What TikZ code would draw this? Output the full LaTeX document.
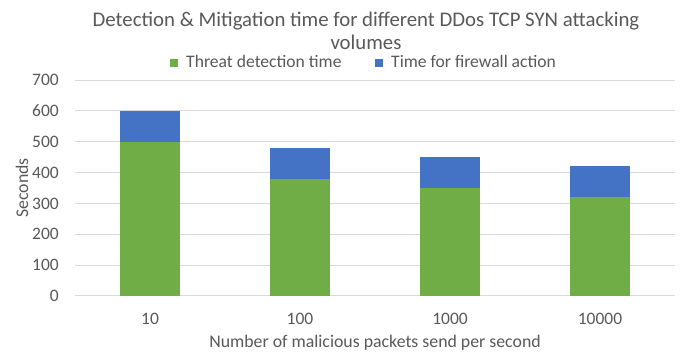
\documentclass[tikz,border=0pt]{standalone}
\usepackage{fontspec}
\setmainfont{Carlito}
\definecolor{txt}{HTML}{595959}
\definecolor{grn}{HTML}{70AD47}
\definecolor{blu}{HTML}{4472C4}
\definecolor{grd}{HTML}{D9D9D9}
\begin{document}
\begin{tikzpicture}[x=1pt,y=1pt,
  grid/.style={draw=grd,line width=1pt},
  tick/.style={text=txt,font=\fontsize{17.5}{19}\selectfont,inner sep=0pt},
  ylab/.style={tick,anchor=east},
  barg/.style={fill=grn,draw=none},
  barb/.style={fill=blu,draw=none},
  leg/.style={text=txt,font=\fontsize{17.6}{19}\selectfont,anchor=base west,inner sep=0pt}]
\useasboundingbox (0,0) rectangle (680,-352);
\fill[white] (0,0) rectangle (680,-352);
% gridlines
\foreach \v in {0,100,...,700}{
  \draw[grid] (75,{-296+\v*0.30857}) -- (675,{-296+\v*0.30857});
  \node[ylab] (y\v) at (59,{-296+\v*0.30857}) {\v};
}
% bars
\foreach \c/\g/\b [count=\i] in {150/500/600,300/380/480,450/350/450,600/320/420}{
  \fill[barg] (\c-30,-296) rectangle (\c+30,{-296+\g*0.30857});
  \fill[barb] (\c-30,{-296+\g*0.30857}) rectangle (\c+30,{-296+\b*0.30857});
}
\node[tick] (x1) at (150,-319) {10};
\node[tick] (x2) at (300,-319) {100};
\node[tick] (x3) at (450,-319) {1000};
\node[tick] (x4) at (600,-319) {10000};
% axis titles
\node[text=txt,font=\fontsize{17.8}{19}\selectfont,inner sep=0pt] (xt) at (375,-343) {Number of malicious packets send per second};
\node[text=txt,font=\fontsize{17.8}{19}\selectfont,inner sep=0pt,rotate=90] (yt) at (22,-188) {Seconds};
% title
\node[text=txt,font=\fontsize{20.8}{23}\selectfont,align=center,inner sep=0pt] (title) at (366,-30.5)
  {Detection \& Mitigation time for different DDos TCP SYN attacking\\volumes};
% legend
\fill[grn] (170,-59) rectangle (178,-67);
\node[leg] (l1) at (186,-68) {Threat detection time};
\fill[blu] (375,-59) rectangle (383,-67);
\node[leg] (l2) at (391,-68) {Time for firewall action};
\end{tikzpicture}
\end{document}
